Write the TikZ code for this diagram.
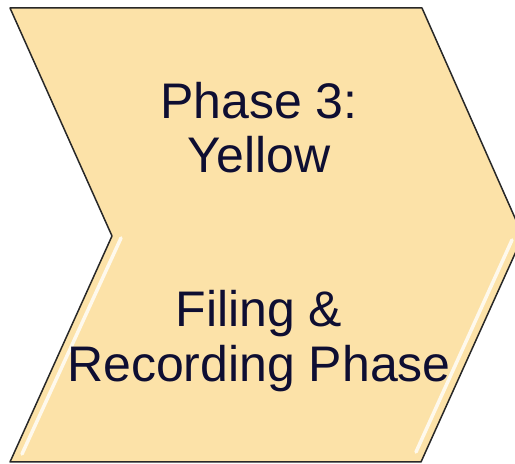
\documentclass[tikz,border=0pt]{standalone}
\usepackage{fontspec}
\setmainfont{Liberation Sans}
\usepackage[dvipsnames]{xcolor}
\usetikzlibrary{positioning}
\definecolor{chevfill}{RGB}{252,226,168}
\definecolor{chevline}{RGB}{40,40,40}
\definecolor{chevtext}{RGB}{14,14,50}
\tikzset{
  chevlabel/.style={anchor=base,text=chevtext,inner sep=0pt,font=\fontsize{50}{55}\selectfont},
  bevel/.style={white,line width=3.5pt,opacity=0.8}
}

\begin{document}
\begin{tikzpicture}[line cap=round,line join=round,x=1pt,y=1pt]
\useasboundingbox (0,0) rectangle (515,464);
\clip (0,0) rectangle (515,464);
\fill[chevfill] (10,456) -- (422,456) -- (523,228) -- (421,2) -- (10,2) -- (112,228) -- cycle;
% light bevel along the lower edges
\draw[bevel] (121,226) -- (22,10);
\draw[bevel] (512,224) -- (416,12);
\draw[chevline,line width=1.5pt] (10,456) -- (422,456) -- (523,228) -- (421,2) -- (10,2) -- (112,228) -- cycle;
\node[chevlabel] (phase) at (259,345) {Phase 3:};
\node[chevlabel] (colour) at (259,291) {Yellow};
\node[chevlabel] (task) at (259,137) {Filing \&};
\node[chevlabel] (task2) at (259,82) {Recording Phase};
\end{tikzpicture}
\end{document}
